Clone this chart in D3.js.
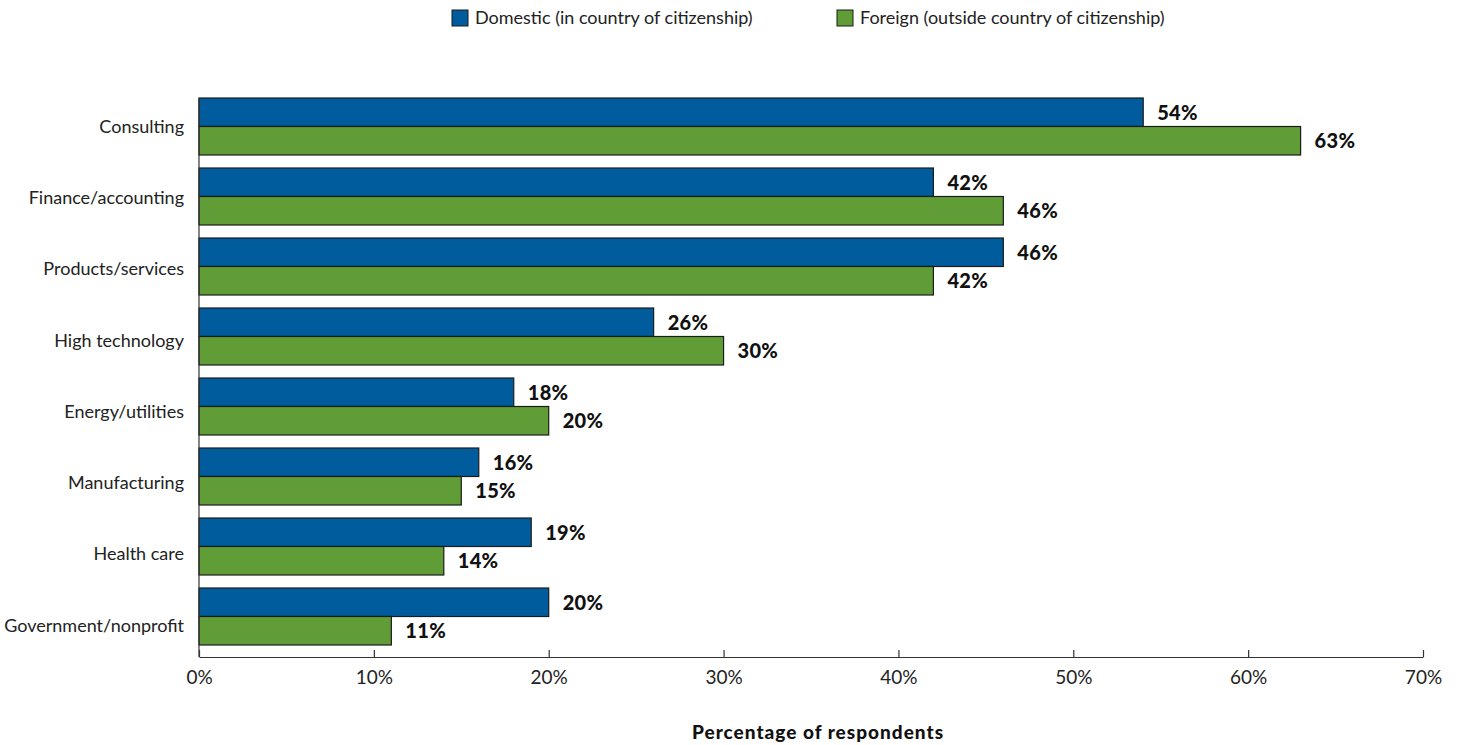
<!DOCTYPE html>
<html>
<head>
<meta charset="utf-8">
<script src="https://cdn.jsdelivr.net/npm/d3@7"></script>
<style>
  html, body { margin: 0; padding: 0; background: #fff; }
  svg { display: block; font-family: "Lato", "Open Sans", sans-serif; }
</style>
</head>
<body>
<svg id="chart" width="1458" height="745"></svg>
<script>
// Industry of employment after graduation, by location
const categories = [
  "Consulting", "Finance/accounting", "Products/services", "High technology",
  "Energy/utilities", "Manufacturing", "Health care", "Government/nonprofit"
];
const seriesNames = ["Domestic (in country of citizenship)", "Foreign (outside country of citizenship)"];
const domestic = [54, 42, 46, 26, 18, 16, 19, 20];
const foreign  = [63, 46, 42, 30, 20, 15, 14, 11];
const xTicks = [0, 10, 20, 30, 40, 50, 60, 70];
const colors = ["#005c9c", "#619d36"];

const svg = d3.select("#chart");
const plotLeft = 199, plotRight = 1423, plotTop = 98, axisY = 657;

const x = d3.scaleLinear().domain([0, 70]).range([plotLeft, plotRight]);
const y = d3.scaleBand().domain(categories)
  .range([plotTop, plotTop + categories.length * 70 - 13])
  .paddingInner(13 / 70).paddingOuter(0).align(0);
const ySub = d3.scaleBand().domain([0, 1]).range([0, y.bandwidth()]).padding(0);
// Category labels sit on their own evenly spaced rhythm
const yLabel = d3.scalePoint().domain(categories).range([128.5, 627]);

const rows = categories.map((c, i) => ({ cat: c, vals: [domestic[i], foreign[i]] }));

// Bars
const g = svg.append("g");
const grp = g.selectAll("g.cat").data(rows).join("g")
  .attr("class", "cat")
  .attr("transform", d => `translate(0,${y(d.cat)})`);

grp.selectAll("rect").data(d => d.vals.map((v, k) => ({ v, k }))).join("rect")
  .attr("x", x(0))
  .attr("y", d => ySub(d.k))
  .attr("width", d => x(d.v) - x(0))
  .attr("height", ySub.bandwidth())
  .attr("fill", d => colors[d.k])
  .attr("stroke", "#1b1b1b")
  .attr("stroke-width", 1.2);

grp.selectAll("text.val").data(d => d.vals.map((v, k) => ({ v, k }))).join("text")
  .attr("class", "val")
  .attr("x", d => x(d.v) + 14)
  .attr("y", d => ySub(d.k) + ySub.bandwidth() / 2 + 2.5)
  .attr("dominant-baseline", "middle")
  .attr("font-weight", "900")
  .attr("font-size", 20)
  .attr("letter-spacing", 0.3)
  .attr("fill", "#111")
  .text(d => d.v + "%");

// Category labels
svg.append("g").selectAll("text").data(categories).join("text")
  .attr("x", 184)
  .attr("y", c => yLabel(c))
  .attr("text-anchor", "end")
  .attr("dominant-baseline", "middle")
  .attr("font-size", 18)
  .attr("fill", "#222")
  .text(c => c);

// Vertical baseline
svg.append("line")
  .attr("x1", plotLeft).attr("x2", plotLeft)
  .attr("y1", plotTop).attr("y2", axisY)
  .attr("stroke", "#333").attr("stroke-width", 1.2);

// X axis with inward ticks
const xAxis = d3.axisBottom(x).tickValues(xTicks)
  .tickFormat(d => d + "%").tickSizeInner(-7).tickSizeOuter(0).tickPadding(14);
const ax = svg.append("g").attr("transform", `translate(0,${axisY})`).call(xAxis);
ax.select(".domain").attr("stroke", "#333").attr("stroke-width", 1.2);
ax.selectAll(".tick line").attr("stroke", "#333").attr("stroke-width", 1.2);
ax.selectAll(".tick text")
  .attr("font-size", 19).attr("fill", "#222")
  .attr("font-family", "Lato, 'Open Sans', sans-serif");

// Axis title
svg.append("text")
  .attr("x", 818).attr("y", 739)
  .attr("text-anchor", "middle")
  .attr("font-weight", "900")
  .attr("font-size", 19)
  .attr("letter-spacing", 1)
  .attr("fill", "#111")
  .text("Percentage of respondents");

// Legend
const legendX = [452, 837];
const lg = svg.append("g").selectAll("g").data(seriesNames).join("g")
  .attr("transform", (d, i) => `translate(${legendX[i]},10)`);
lg.append("rect")
  .attr("width", 16).attr("height", 16)
  .attr("fill", (d, i) => colors[i])
  .attr("stroke", "#1b1b1b").attr("stroke-width", 1);
lg.append("text")
  .attr("x", 23).attr("y", 9)
  .attr("dominant-baseline", "middle")
  .attr("font-size", 18)
  .attr("fill", "#222")
  .text(d => d);
</script>
</body>
</html>
